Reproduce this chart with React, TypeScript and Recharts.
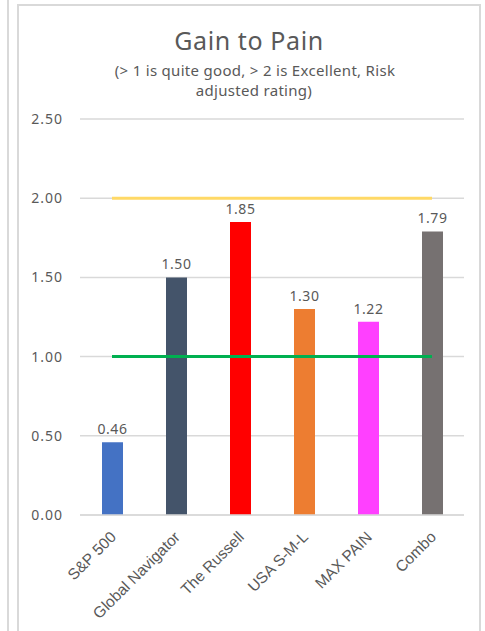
import React from "react";
import {
  ComposedChart,
  Bar,
  Line,
  XAxis,
  YAxis,
  CartesianGrid,
  Cell,
  LabelList,
} from "recharts";

const categories = [
  "S&P 500",
  "Global Navigator",
  "The Russell",
  "USA S-M-L",
  "MAX PAIN",
  "Combo",
];
const gainToPain = [0.46, 1.5, 1.85, 1.3, 1.22, 1.79];
const excellentLine = [2, 2, 2, 2, 2, 2];
const goodLine = [1, 1, 1, 1, 1, 1];
const yTicks = [0, 0.5, 1, 1.5, 2, 2.5];

const barColors = ["#4472C4", "#44546A", "#FF0000", "#ED7D31", "#FF40FF", "#767171"];

const data = categories.map((name, i) => ({
  name,
  value: gainToPain[i],
  excellent: excellentLine[i],
  good: goodLine[i],
}));

const TEXT = "#595959";
const GRID = "#d9d9d9";
const FONT = "'Noto Sans', sans-serif";

function AngledTick(props: any) {
  const { x, y, payload } = props;
  return (
    <g transform={`translate(${x + 5},${y + 15})`}>
      <text
        x={0}
        y={0}
        textAnchor="end"
        transform="rotate(-45)"
        fill={TEXT}
        fontSize={15.5}
        fontFamily="'Liberation Sans', Arial, sans-serif"
      >
        {payload.value}
      </text>
    </g>
  );
}

export default function App() {
  return (
    <div
      style={{
        position: "absolute",
        left: 0,
        top: 0,
        width: 485,
        height: 631,
        overflow: "hidden",
        background: "#fff",
      }}
    >
      <div
        style={{ position: "absolute", left: 7, top: 0, width: 2, height: 631, background: GRID }}
      />
      <div
        style={{
          position: "absolute",
          left: 17,
          top: 4,
          width: 460,
          height: 660,
          border: `2px solid ${GRID}`,
        }}
      />
      <svg
        width={485}
        height={120}
        style={{ position: "absolute", left: 0, top: 0, pointerEvents: "none" }}
      >
        <text
          x={249}
          y={50}
          textAnchor="middle"
          fontSize={25}
          letterSpacing={0.6}
          fill={TEXT}
          fontFamily={FONT}
        >
          Gain to Pain
        </text>
        <text
          x={255}
          y={76}
          textAnchor="middle"
          fontSize={15}
          letterSpacing={0.3}
          fill={TEXT}
          fontFamily={FONT}
        >
          (&gt; 1 is quite good, &gt; 2 is Excellent, Risk
        </text>
        <text
          x={254}
          y={96}
          textAnchor="middle"
          fontSize={15}
          letterSpacing={0.3}
          fill={TEXT}
          fontFamily={FONT}
        >
          adjusted rating)
        </text>
      </svg>
      <div style={{ position: "absolute", left: 19, top: 6 }}>
        <ComposedChart
          width={460}
          height={625}
          data={data}
          margin={{ top: 113, right: 15, bottom: 16, left: 16 }}
        >
          <CartesianGrid vertical={false} stroke={GRID} strokeWidth={1.5} />
          <XAxis
            dataKey="name"
            interval={0}
            height={100}
            tick={<AngledTick />}
            tickLine={false}
            axisLine={{ stroke: GRID, strokeWidth: 1.5 }}
          />
          <YAxis
            width={45}
            domain={[0, 2.5]}
            ticks={yTicks}
            tickFormatter={(v: number) => v.toFixed(2)}
            tick={{ fontSize: 14, fill: TEXT, fontFamily: FONT, letterSpacing: 1 }}
            tickMargin={11}
            axisLine={false}
            tickLine={false}
          />
          <Bar dataKey="value" barSize={21} isAnimationActive={false}>
            {data.map((entry, i) => (
              <Cell key={entry.name} fill={barColors[i]} />
            ))}
            <LabelList
              dataKey="value"
              position="top"
              offset={8}
              formatter={(v: any) => Number(v).toFixed(2)}
              fill={TEXT}
              fontSize={14}
              fontFamily={FONT}
              letterSpacing={0.5}
            />
          </Bar>
          <Line
            dataKey="excellent"
            stroke="#FFD966"
            strokeWidth={3}
            dot={false}
            activeDot={false}
            isAnimationActive={false}
          />
          <Line
            dataKey="good"
            stroke="#00B050"
            strokeWidth={3}
            dot={false}
            activeDot={false}
            isAnimationActive={false}
          />
        </ComposedChart>
      </div>
    </div>
  );
}
